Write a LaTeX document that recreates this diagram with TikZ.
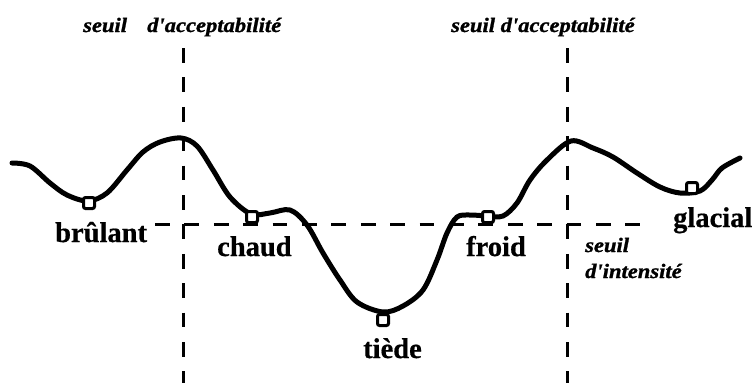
\documentclass[tikz,border=0pt]{standalone}
\usepackage{fontspec}
\setmainfont{Liberation Serif}
\newfontfamily\itlab[FakeStretch=1.1,FakeBold=1.2]{Liberation Serif}
\newfontfamily\bflab[FakeBold=0.6]{Liberation Serif}
\begin{document}
\begin{tikzpicture}[x=1pt,y=-1pt,
  dashline/.style={line width=3pt,dash pattern=on 14.7pt off 14.7pt},
  curve/.style={line width=5pt,line cap=round,line join=round},
  marker/.style={draw,line width=3pt,fill=white,rounded corners=2pt,minimum size=11pt,inner sep=0pt},
  biglab/.style={font=\bflab\fontsize{28.5}{30}\selectfont\bfseries,inner sep=0pt,anchor=base west},
  smalllab/.style={font=\itlab\fontsize{20.5}{22}\selectfont\bfseries\itshape,inner sep=0pt,anchor=base west}]
\useasboundingbox (0,0) rectangle (756,383);
% dashed thresholds
\coordinate (v1t) at (183,48); \coordinate (v1b) at (183,386);
\coordinate (v2t) at (567,48); \coordinate (v2b) at (567,386);
\coordinate (hl) at (155,224); \coordinate (hr) at (642,224);
\draw[dashline] (v1t) -- (v1b);
\draw[dashline] (v2t) -- (v2b);
\draw[dashline] (hl) -- (hr);
% curve
\draw[curve] plot[smooth,tension=0.55] coordinates {
 (12,163) (30,166) (50,183) (67,195) (88,201) (107,193) (127,170) (143,152) (160,142) (181,138)
 (197,146) (213,170) (230,197) (251,214) (270,213) (290,210) (307,225) (323,253) (340,280)
 (357,302) (383,312) (403,306) (423,290) (437,260) (447,233) (457,217) (470,215) (487,216)
 (503,216) (517,203) (530,180) (547,160) (571,141) (593,148) (613,157) (637,173) (660,187)
 (680,193) (700,191) (712,180) (722,168) (740,158)};
% markers
\node[marker] (mb) at (89,203) {};
\node[marker] (mc) at (252,217) {};
\node[marker] (mt) at (383,320) {};
\node[marker] (mf) at (488,217) {};
\node[marker] (mg) at (692,188) {};
% labels
\node[smalllab] (s1) at (83,32) {seuil};
\node[smalllab] (a1) at (147,32) {d'acceptabilité};
\node[smalllab] (a2) at (451,32) {seuil d'acceptabilité};
\node[smalllab] (s3) at (585,252) {seuil};
\node[smalllab] (i3) at (585,278) {d'intensité};
\node[biglab] (lb) at (55,242) {brûlant};
\node[biglab] (lc) at (217,256) {chaud};
\node[biglab] (lt) at (363,358) {tiède};
\node[biglab] (lf) at (466,256) {froid};
\node[biglab] (lg) at (673,227) {glacial};
\end{tikzpicture}
\end{document}
